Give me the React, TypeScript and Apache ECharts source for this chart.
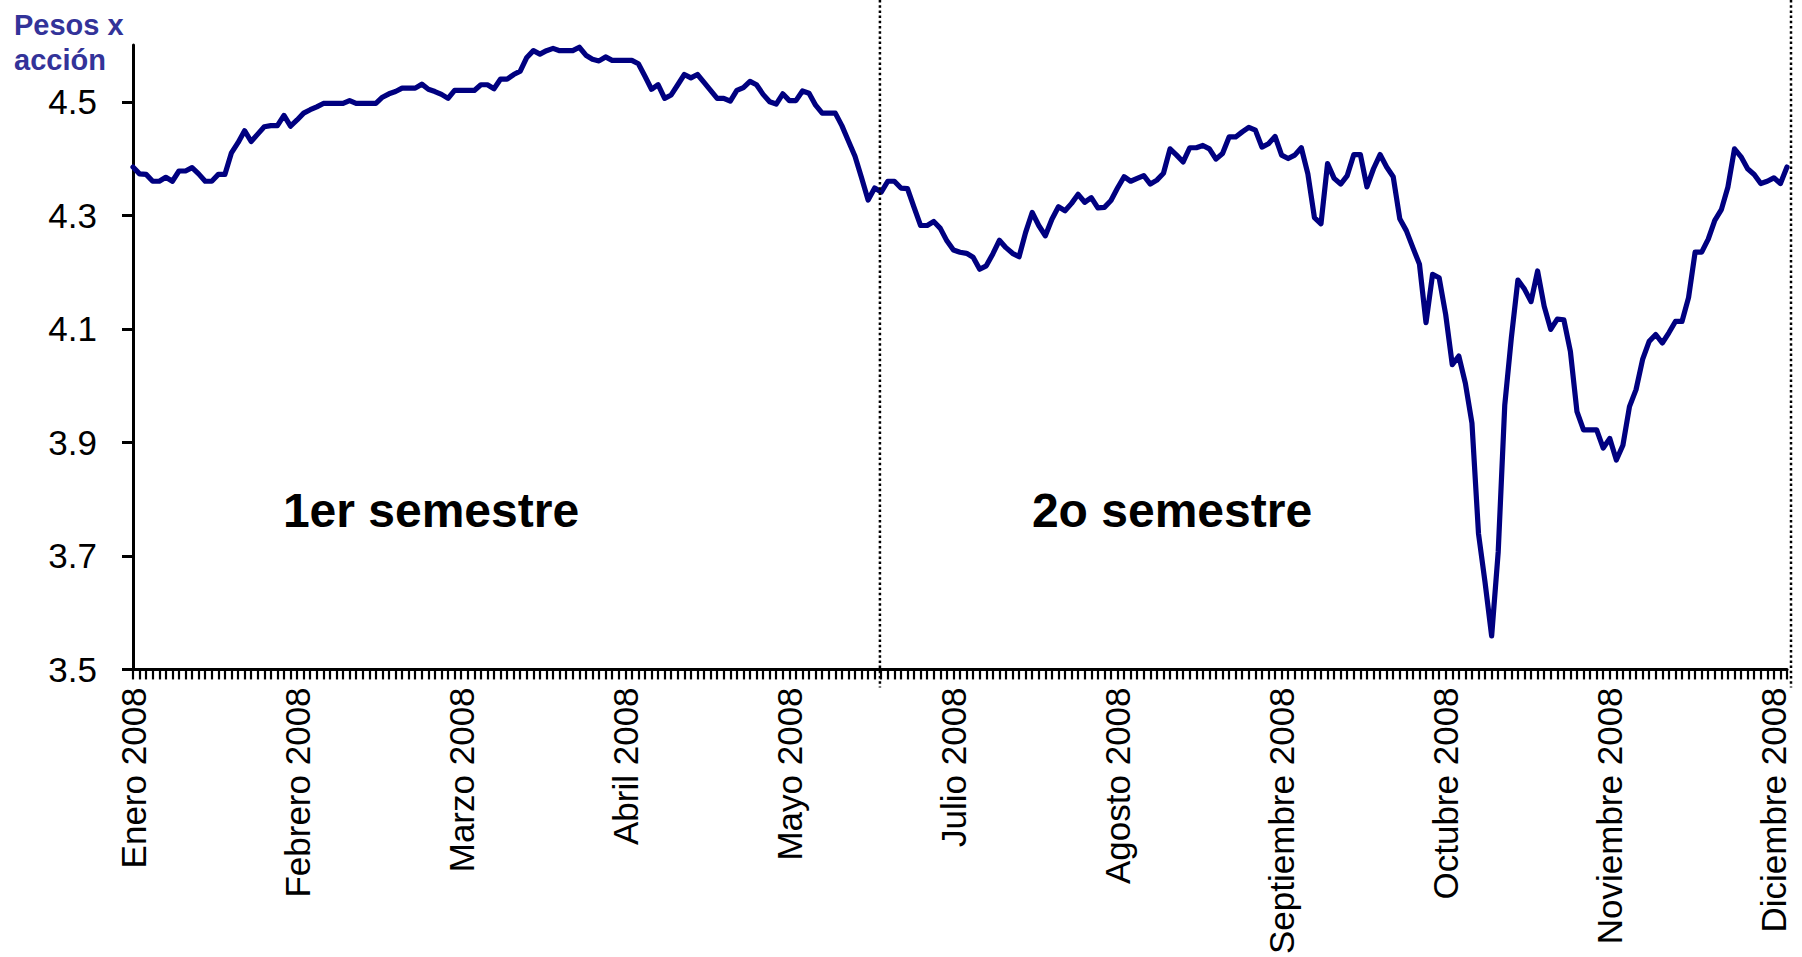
import React, { useEffect, useRef } from 'react';
import * as echarts from 'echarts';

// ---- data ----
const monthLabels = [
  'Enero 2008', 'Febrero 2008', 'Marzo 2008', 'Abril 2008', 'Mayo 2008',
  'Julio 2008', 'Agosto 2008', 'Septiembre 2008', 'Octubre 2008',
  'Noviembre 2008', 'Diciembre 2008',
];
const labelEvery = 25;

const prices = [
  4.385, 4.373, 4.372, 4.36, 4.36, 4.367, 4.36, 4.378, 4.378, 4.384,
  4.373, 4.36, 4.36, 4.372, 4.372, 4.41, 4.428, 4.449, 4.43, 4.443,
  4.456, 4.458, 4.458, 4.476, 4.457, 4.468, 4.48, 4.486, 4.491, 4.497,
  4.497, 4.497, 4.497, 4.502, 4.497, 4.497, 4.497, 4.497, 4.508, 4.514,
  4.518, 4.524, 4.524, 4.524, 4.531, 4.522, 4.518, 4.513, 4.506, 4.52,
  4.52, 4.52, 4.52, 4.53, 4.53, 4.523, 4.54, 4.54, 4.548, 4.554,
  4.578, 4.59, 4.584, 4.59, 4.594, 4.59, 4.59, 4.59, 4.596, 4.582,
  4.575, 4.572, 4.579, 4.573, 4.573, 4.573, 4.573, 4.567, 4.545, 4.522,
  4.53, 4.506, 4.512, 4.53, 4.548, 4.542, 4.548, 4.534, 4.52, 4.506,
  4.506, 4.501, 4.52, 4.525, 4.536, 4.53, 4.513, 4.5, 4.496, 4.514,
  4.502, 4.502, 4.519, 4.515, 4.494, 4.48, 4.48, 4.48, 4.458, 4.431,
  4.404, 4.366, 4.327, 4.348, 4.341, 4.36, 4.36, 4.348, 4.347, 4.314,
  4.282, 4.282, 4.289, 4.277, 4.255, 4.239, 4.235, 4.233, 4.226, 4.205,
  4.211, 4.232, 4.256, 4.243, 4.233, 4.227, 4.27, 4.305, 4.282, 4.264,
  4.293, 4.315, 4.308, 4.321, 4.337, 4.323, 4.331, 4.313, 4.314, 4.326,
  4.348, 4.368, 4.36, 4.365, 4.37, 4.355, 4.362, 4.374, 4.417, 4.406,
  4.394, 4.419, 4.419, 4.423, 4.417, 4.399, 4.409, 4.438, 4.438, 4.447,
  4.455, 4.45, 4.42, 4.426, 4.439, 4.406, 4.4, 4.406, 4.419, 4.373,
  4.296, 4.285, 4.391, 4.365, 4.355, 4.37, 4.407, 4.407, 4.35, 4.382,
  4.407, 4.385, 4.368, 4.294, 4.273, 4.243, 4.214, 4.111, 4.196, 4.19,
  4.125, 4.037, 4.052, 4.004, 3.934, 3.739, 3.653, 3.559, 3.707, 3.966,
  4.084, 4.186, 4.17, 4.148, 4.202, 4.14, 4.099, 4.117, 4.116, 4.06,
  3.954, 3.922, 3.922, 3.922, 3.89, 3.907, 3.869, 3.895, 3.963, 3.993,
  4.046, 4.078, 4.09, 4.075, 4.093, 4.113, 4.113, 4.155, 4.235, 4.235,
  4.258, 4.291, 4.31, 4.35, 4.417, 4.403, 4.382, 4.372, 4.356, 4.36,
  4.366, 4.356, 4.385,
];

const yTickValues = [3.5, 3.7, 3.9, 4.1, 4.3, 4.5];
const yMin = 3.5;
const yMax = 4.6;
const unitLabel = 'Pesos x\nacción';
const semesterLabels = ['1er semestre', '2o semestre'];
const semesterDividerIndex = 113.8;

const categories = prices.map((_, i) =>
  i % labelEvery === 0 ? monthLabels[i / labelEvery] : String(i + 1)
);

const FONT = '"Liberation Sans", Arial, sans-serif';

export default function App() {
  const ref = useRef<HTMLDivElement>(null);

  useEffect(() => {
    if (!ref.current) return;
    const chart = echarts.init(ref.current, undefined, { renderer: 'svg' });
    chart.setOption({
      animation: false,
      backgroundColor: '#ffffff',
      grid: { left: 133, right: 15, top: 45, bottom: 287, containLabel: false },
      title: {
        text: unitLabel,
        left: 9,
        top: 2,
        textStyle: {
          color: '#333399',
          fontSize: 29,
          fontWeight: 'bold',
          fontFamily: FONT,
          lineHeight: 35,
        },
      },
      xAxis: {
        type: 'category',
        data: categories,
        boundaryGap: false,
        axisLine: { show: true, lineStyle: { color: '#000', width: 3 } },
        axisTick: {
          show: true,
          interval: 0,
          length: 10,
          lineStyle: { color: '#000', width: 2.2 },
        },
        axisLabel: {
          interval: labelEvery - 1,
          rotate: 90,
          margin: 18,
          color: '#000',
          fontSize: 35,
          fontFamily: FONT,
          padding: [6, 0, 0, 0],
        },
        splitLine: { show: false },
      },
      yAxis: {
        type: 'value',
        min: yMin,
        max: yMax,
        interval: 0.2,
        axisLine: { show: true, lineStyle: { color: '#000', width: 3 } },
        axisTick: {
          show: true,
          length: 11,
          customValues: yTickValues,
          lineStyle: { color: '#000', width: 3 },
        },
        axisLabel: {
          customValues: yTickValues,
          margin: 36,
          color: '#000',
          fontSize: 35,
          fontFamily: FONT,
          formatter: (v: number) => v.toFixed(1),
        },
        splitLine: { show: false },
      },
      series: [
        {
          type: 'line',
          data: prices,
          symbol: 'none',
          lineStyle: { color: '#000080', width: 5.2, join: 'round', cap: 'round' },
          z: 3,
        },
      ],
    });

    const x0 = chart.convertToPixel({ xAxisIndex: 0 }, 0) as number;
    const xN = chart.convertToPixel({ xAxisIndex: 0 }, prices.length - 1) as number;
    const yBottom = chart.convertToPixel({ yAxisIndex: 0 }, yMin) as number;
    const xDiv = x0 + ((xN - x0) * semesterDividerIndex) / (prices.length - 1);
    const xRight = xN + 4;
    const dotStyle = { stroke: '#000', lineWidth: 2.5, lineDash: [2.5, 2.7] };
    const semY = 510;

    chart.setOption({
      graphic: [
        {
          type: 'line',
          shape: { x1: xDiv, y1: 0, x2: xDiv, y2: yBottom + 18 },
          style: dotStyle,
          z: 10,
        },
        {
          type: 'line',
          shape: { x1: xRight, y1: 0, x2: xRight, y2: yBottom + 18 },
          style: dotStyle,
          z: 10,
        },
        {
          type: 'text',
          x: 431,
          y: semY,
          style: {
            text: semesterLabels[0],
            fontSize: 48,
            fontWeight: 'bold',
            fontFamily: FONT,
            fill: '#000',
            align: 'center',
            verticalAlign: 'middle',
          },
        },
        {
          type: 'text',
          x: 1172,
          y: semY,
          style: {
            text: semesterLabels[1],
            fontSize: 48,
            fontWeight: 'bold',
            fontFamily: FONT,
            fill: '#000',
            align: 'center',
            verticalAlign: 'middle',
          },
        },
      ],
    });

    return () => chart.dispose();
  }, []);

  return (
    <div
      ref={ref}
      style={{ position: 'fixed', left: 0, top: 0, width: 1802, height: 957, background: '#fff' }}
    />
  );
}
